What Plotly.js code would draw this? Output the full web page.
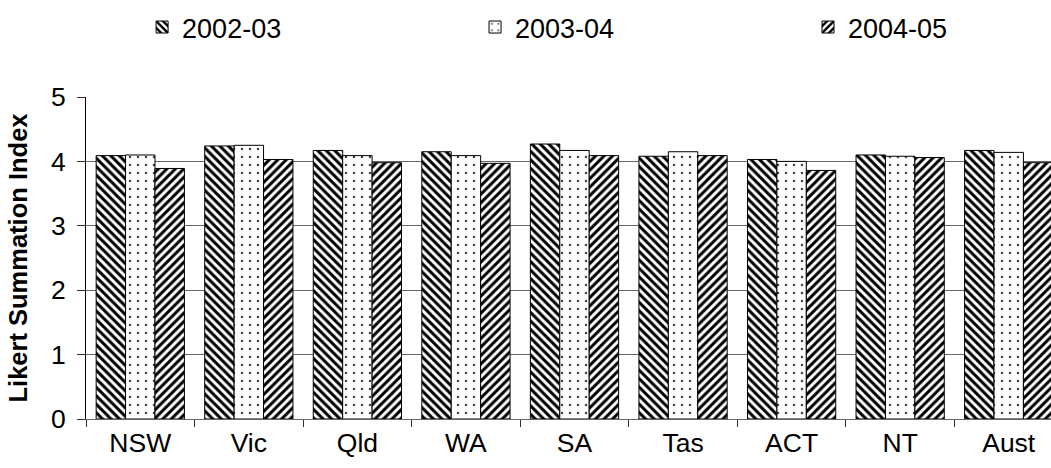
<!DOCTYPE html>
<html>
<head>
<meta charset="utf-8">
<script src="https://cdn.plot.ly/plotly-3.0.1.min.js"></script>
<style>
html,body{margin:0;padding:0;overflow:hidden;background:#fff;}
#chart{width:1300px;height:488px;margin-top:-20px;}
</style>
</head>
<body>
<div id="chart"></div>
<script>
const categories = ["NSW","Vic","Qld","WA","SA","Tas","ACT","NT","Aust"];
const seriesNames = ["2002-03","2003-04","2004-05"];
const v2002 = [4.09,4.24,4.17,4.15,4.27,4.08,4.03,4.10,4.17];
const v2003 = [4.10,4.25,4.09,4.09,4.17,4.15,4.00,4.08,4.14];
const v2004 = [3.89,4.03,3.98,3.97,4.09,4.09,3.86,4.06,3.98];
const yTitle = "Likert Summation Index";

const FONT = "Liberation Sans, Arial, sans-serif";
function tr(name, vals, pattern, leg){
  return {type:'bar', name:name, x:categories, y:vals, legend:leg,
    marker:{color:'white', line:{color:'black', width:1}, pattern:pattern}};
}
const data = [
  tr(seriesNames[0], v2002, {shape:'\\', fgcolor:'black', bgcolor:'white', size:6, solidity:0.5}, 'legend'),
  tr(seriesNames[1], v2003, {shape:'.', fgcolor:'#444', bgcolor:'white', size:8, solidity:0.08}, 'legend2'),
  tr(seriesNames[2], v2004, {shape:'/', fgcolor:'black', bgcolor:'white', size:6, solidity:0.5}, 'legend3')
];
function leg(x){
  return {orientation:'h', x:x, xanchor:'left', y:1.292, yanchor:'top',
    font:{family:FONT, size:27, color:'black'},
    itemclick:false, bgcolor:'rgba(0,0,0,0)'};
}
const layout = {
  width:1300, height:488,
  margin:{l:86, r:237, t:117, b:49},
  paper_bgcolor:'white', plot_bgcolor:'white',
  font:{family:FONT, size:26.5, color:'black'},
  barmode:'group', bargap:0.187, bargroupgap:0,
  showlegend:true,
  legend:leg(0.0574), legend2:leg(0.3982), legend3:leg(0.739),
  xaxis:{type:'category', tickson:'boundaries', ticks:'outside', ticklen:7, tickcolor:'#333',
    showline:true, linecolor:'#666', linewidth:1, showgrid:false,
    tickfont:{family:FONT, size:26.5, color:'black'}},
  yaxis:{range:[0,5], dtick:1, tick0:0, ticks:'outside', ticklen:8, tickcolor:'#333',
    showline:true, linecolor:'black', linewidth:1, showgrid:true, gridcolor:'#666', gridwidth:1,
    zeroline:false, ticklabelstandoff:6,
    tickfont:{family:FONT, size:26.5, color:'black'},
    title:{text:yTitle, font:{family:FONT, size:25.5, color:'black', weight:'bold'}, standoff:16}}
};
Plotly.newPlot('chart', data, layout, {displayModeBar:false, staticPlot:true});
</script>
</body>
</html>
